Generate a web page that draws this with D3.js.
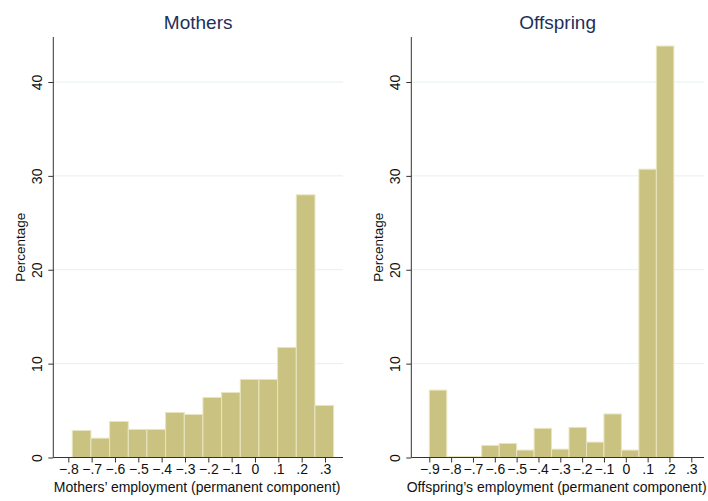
<!DOCTYPE html>
<html><head><meta charset="utf-8">
<script src="https://cdn.jsdelivr.net/npm/d3@7"></script>
<style>body{margin:0;background:#fff}svg{display:block;font-family:"Liberation Sans",Arial,sans-serif}</style>
</head><body><svg id="c" width="708" height="501"></svg>
<script>
const panelTitles = ["Mothers", "Offspring"];
const axisTitles = ["Mothers\u2019 employment (permanent component)", "Offspring\u2019s employment (permanent component)"];
const motherBinStart = -0.783, motherBinWidth = 0.08;
const motherValues = [2.88, 2.06, 3.84, 2.99, 2.99, 4.80, 4.59, 6.40, 6.93, 8.32, 8.32, 11.73, 27.98, 5.55];
const offBinStart = -0.9, offBinWidth = 0.08;
const offValues = [7.18, 0.1, 0.1, 1.29, 1.5, 0.79, 3.11, 0.89, 3.21, 1.64, 4.64, 0.79, 30.71, 43.83];
const motherTicks = [-0.8,-0.7,-0.6,-0.5,-0.4,-0.3,-0.2,-0.1,0,0.1,0.2,0.3];
const offTicks = [-0.9,-0.8,-0.7,-0.6,-0.5,-0.4,-0.3,-0.2,-0.1,0,0.1,0.2,0.3];
const yTicks = [0,10,20,30,40];

const svg = d3.select("#c");
const fmt = v => v === 0 ? "0" : (v < 0 ? "\u2212" : "") + String(Math.abs(Math.round(v*10)/10)).replace(/^0/, "");

function panel(cfg) {
  const {title, xTitle, binStart, binWidth, values, ticks, xDom, xRange, left, right} = cfg;
  const top = 37, bottom = 457.5;
  const x = d3.scaleLinear().domain(xDom).range(xRange);
  const y = d3.scaleLinear().domain([0, 40]).range([bottom, 82]);
  const g = svg.append("g");
  g.selectAll(".grid").data(yTicks.filter(d => d > 0)).join("line")
    .attr("x1", left).attr("x2", right).attr("y1", d => y(d)).attr("y2", d => y(d))
    .attr("stroke", "#e6eff2").attr("stroke-width", 1);
  const bins = values.map((v, i) => ({x0: binStart + i*binWidth, x1: binStart + (i+1)*binWidth, v}));
  g.selectAll(".bar").data(bins).join("rect")
    .attr("x", d => x(d.x0)).attr("width", d => x(d.x1) - x(d.x0))
    .attr("y", d => y(d.v)).attr("height", d => y(0) - y(d.v))
    .attr("fill", "#cac280").attr("stroke", "#e9e5c2").attr("stroke-width", 1);
  const ya = g.append("g").attr("transform", `translate(${left},0)`)
    .call(d3.axisLeft(y).tickValues(yTicks).tickSize(5).tickFormat(d3.format("d")));
  ya.select(".domain").remove();
  ya.append("line").attr("x1", 0).attr("x2", 0).attr("y1", top).attr("y2", bottom).attr("stroke", "#333");
  ya.selectAll(".tick line").attr("stroke", "#333");
  ya.selectAll(".tick text").attr("font-size", 14).attr("fill", "#111")
    .attr("x", 0).attr("y", 0).attr("dy", 0).attr("text-anchor", "middle")
    .attr("transform", "translate(-11,0) rotate(-90)");
  const xa = g.append("g").attr("transform", `translate(0,${bottom})`)
    .call(d3.axisBottom(x).tickValues(ticks).tickSize(5).tickFormat(fmt));
  xa.select(".domain").remove();
  xa.append("line").attr("x1", left).attr("x2", right).attr("y1", 0).attr("y2", 0).attr("stroke", "#333");
  xa.selectAll(".tick line").attr("stroke", "#333");
  xa.selectAll(".tick text").attr("font-size", 14).attr("fill", "#111").attr("y", 7);
  g.append("text").attr("x", (left + right)/2 - 1).attr("y", 492).attr("text-anchor", "middle")
    .attr("font-size", 14).attr("fill", "#111").text(xTitle);
  g.append("text").attr("transform", `translate(${left - 28},${(top+bottom)/2}) rotate(-90)`)
    .attr("text-anchor", "middle").attr("font-size", 13.5).attr("fill", "#111").text("Percentage");
  g.append("text").attr("x", (left + right)/2).attr("y", 29).attr("text-anchor", "middle")
    .attr("font-size", 19).attr("fill", "#1e2f5c").text(title);
}

panel({title: panelTitles[0], xTitle: axisTitles[0], binStart: motherBinStart, binWidth: motherBinWidth,
  values: motherValues, ticks: motherTicks, xDom: [-0.8, 0.3], xRange: [68.3, 325], left: 53.3, right: 343});
panel({title: panelTitles[1], xTitle: axisTitles[1], binStart: offBinStart, binWidth: offBinWidth,
  values: offValues, ticks: offTicks, xDom: [-0.9, 0.3], xRange: [429.3, 691.3], left: 411.3, right: 704});
</script></body></html>
